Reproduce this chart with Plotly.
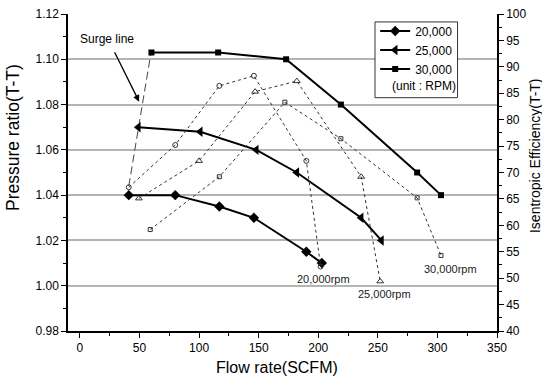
import plotly.graph_objects as go

# ---- data ----
flow_20k = [41, 80, 117, 146, 190, 203]
pr_20k = [1.040, 1.040, 1.035, 1.030, 1.015, 1.010]
flow_25k = [49, 101, 148, 182, 236, 253]
pr_25k = [1.070, 1.068, 1.060, 1.050, 1.030, 1.020]
flow_30k = [60, 116, 173, 219, 283, 303]
pr_30k = [1.103, 1.103, 1.100, 1.080, 1.050, 1.040]

eff_flow_20k = [41, 80, 117, 146, 190, 202]
eff_20k = [67.2, 75.2, 86.4, 88.3, 72.2, 52.2]
eff_flow_25k = [49.5, 100, 147, 182, 236, 252]
eff_25k = [65.1, 72.2, 85.3, 87.3, 69.2, 49.4]
eff_flow_30k = [59, 117, 172, 219, 283, 303]
eff_30k = [59.2, 69.2, 83.3, 76.4, 65.2, 54.3]

surge_flow = [41, 60]
surge_pr = [1.044, 1.104]

speed_names = ["20,000", "25,000", "30,000"]
eff_labels = ["20,000rpm", "25,000rpm", "30,000rpm"]
eff_label_x = [204, 256, 311]
eff_label_y = [49.8, 47.0, 51.7]

x_title = "Flow rate(SCFM)"
y_title = "Pressure ratio(T-T)"
y2_title = "Isentropic Efficiency(T-T)"

FONT = "Liberation Sans, Arial, sans-serif"
fig = go.Figure()

# efficiency curves (right axis)
for fx, fy, sym, ms in [(eff_flow_20k, eff_20k, "circle-open", 5),
                        (eff_flow_25k, eff_25k, "triangle-up-open", 6),
                        (eff_flow_30k, eff_30k, "square-open", 4)]:
    fig.add_trace(go.Scatter(x=fx, y=fy, yaxis="y2", mode="lines+markers",
                             line=dict(color="#333333", width=1, dash="dot"),
                             marker=dict(symbol=sym, size=ms, color="#333333",
                                         line=dict(width=1, color="#333333")),
                             showlegend=False, hoverinfo="skip"))

# surge line
fig.add_trace(go.Scatter(x=surge_flow, y=surge_pr, mode="lines",
                         line=dict(color="#444444", width=1, dash="8px,4px"),
                         showlegend=False, hoverinfo="skip"))

# pressure ratio curves (left axis)
for fx, fy, sym, ms, nm in [(flow_20k, pr_20k, "diamond", 8, speed_names[0]),
                            (flow_25k, pr_25k, "triangle-left", 9, speed_names[1]),
                            (flow_30k, pr_30k, "square", 6, speed_names[2])]:
    fig.add_trace(go.Scatter(x=fx, y=fy, mode="lines+markers", name=nm,
                             line=dict(color="black", width=2),
                             marker=dict(symbol=sym, size=ms, color="black")))

annotations = []
for t, x, y in zip(eff_labels, eff_label_x, eff_label_y):
    annotations.append(dict(x=x, y=y, xref="x", yref="y2", text=t, showarrow=False,
                            font=dict(family=FONT, size=11, color="#222222")))
annotations.append(dict(x=22.4, y=1.1088, xref="x", yref="y", text="Surge line",
                        showarrow=False, font=dict(family=FONT, size=12, color="black")))
annotations.append(dict(x=49.7, y=1.0813, xref="x", yref="y", ax=28.5, ay=1.1038,
                        axref="x", ayref="y", text="", showarrow=True,
                        arrowhead=2, arrowsize=1, arrowwidth=1.3, arrowcolor="black"))
annotations.append(dict(x=0.751, y=0.773, xref="paper", yref="paper", xanchor="left",
                        yanchor="middle", text="(unit : RPM)", showarrow=False,
                        font=dict(family=FONT, size=12, color="black")))
# axis titles
annotations.append(dict(x=0.4865, y=-0.1167, xref="paper", yref="paper", text=x_title,
                        showarrow=False, xanchor="center", yanchor="middle",
                        font=dict(family=FONT, size=16, color="black")))
annotations.append(dict(x=-0.128, y=0.609, xref="paper", yref="paper", text=y_title,
                        textangle=-90, showarrow=False, xanchor="center", yanchor="middle",
                        font=dict(family=FONT, size=17.5, color="black")))
annotations.append(dict(x=1.0886, y=0.552, xref="paper", yref="paper", text=y2_title,
                        textangle=-90, showarrow=False, xanchor="center", yanchor="middle",
                        font=dict(family=FONT, size=14, color="black")))

fig.update_layout(
    width=542, height=384,
    margin=dict(l=68, r=45, t=14, b=53),
    paper_bgcolor="white", plot_bgcolor="white",
    font=dict(family=FONT, size=12, color="black"),
    xaxis=dict(range=[-10, 350], tick0=0, dtick=50, showline=True, linecolor="black",
               linewidth=1.5, ticks="outside", ticklen=5, tickwidth=1.2, tickcolor="black",
               showgrid=False, zeroline=False, automargin=False, ticklabeloverflow="allow",
               minor=dict(dtick=25, ticks="outside", ticklen=3, tickcolor="black", showgrid=False)),
    yaxis=dict(range=[0.98, 1.12], tick0=0.98, dtick=0.02, tickformat=".2f",
               showline=True, linecolor="black", linewidth=1.5, ticks="outside",
               ticklen=5, tickwidth=1.2, tickcolor="black", automargin=False,
               ticklabeloverflow="allow",
               showgrid=True, gridcolor="#b4b4b4", gridwidth=1.5, zeroline=False,
               minor=dict(dtick=0.01, ticks="outside", ticklen=3, tickcolor="black", showgrid=False)),
    yaxis2=dict(range=[40, 100], tick0=40, dtick=5, overlaying="y", side="right",
                showline=True, linecolor="black", linewidth=1.5, ticks="outside",
                ticklen=5, tickwidth=1.2, tickcolor="black", showgrid=False, zeroline=False,
                automargin=False, ticklabeloverflow="allow",
                minor=dict(dtick=2.5, ticks="outside", ticklen=3, tickcolor="black")),
    showlegend=True,
    legend=dict(x=0.716, y=0.992, xanchor="left", yanchor="top",
                bgcolor="rgba(0,0,0,0)", borderwidth=0,
                font=dict(family=FONT, size=12, color="black"), tracegroupgap=0),
    shapes=[dict(type="rect", xref="paper", yref="paper", x0=0.7156, x1=0.908,
                 y0=0.736, y1=0.975, line=dict(color="#333333", width=1),
                 fillcolor="white", layer="above")],
    annotations=annotations,
)

# remove the default 8px page margin so the figure fills the window exactly
fig.write_html("out.html", config={"displayModeBar": False},
               post_script="document.body.style.margin='0px';")
